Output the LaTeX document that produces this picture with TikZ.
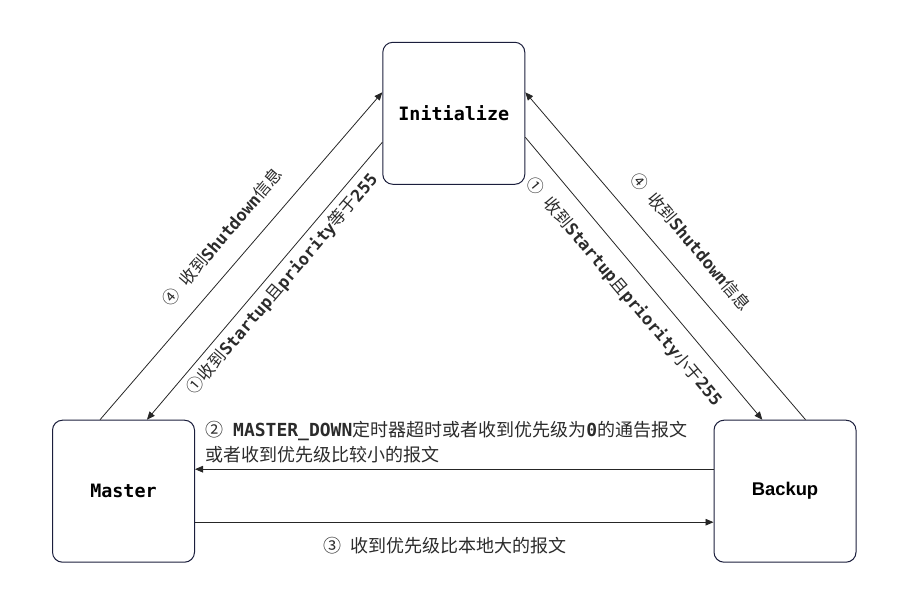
\documentclass[tikz,border=0pt]{standalone}
\usepackage{fontspec}
\setmainfont{Noto Sans CJK SC}
\setmonofont{DejaVu Sans Mono}
\newfontfamily\latinsans{Liberation Sans}
\usetikzlibrary{arrows.meta}

\definecolor{boxline}{HTML}{1B1E3C}
\definecolor{edgeline}{HTML}{262626}
\definecolor{msgtext}{HTML}{2B2B2B}

\newcommand\kw[1]{\texttt{\bfseries #1}}
\newcommand\gap{\hspace{0.55em}}

\begin{document}
\begin{tikzpicture}[x=0.75pt,y=-0.75pt,
	state/.style={draw=boxline,line width=0.75pt,rounded corners=7.5pt,minimum width=106.5pt,minimum height=106.5pt,inner sep=0pt,font=\fontsize{13.8}{16}\selectfont},
	msg/.style={text=msgtext,inner sep=0pt,font=\fontsize{12.6}{15}\selectfont},
	trans/.style={draw=edgeline,line width=0.6pt,-{Triangle[length=6pt,width=5pt]}}]
	\useasboundingbox (0,0) rectangle (899,616);

	\node [state] at (453.8,113.3) (init) {\kw{Initialize}};
	\node [state] at (123.5,491.2) (master) {\kw{Master}};
	\node [state] at (785,491.2) (backup) {\latinsans\bfseries Backup};

	\draw [trans] ([xshift=-17.6pt]master.north) to ([yshift=15.75pt]init.west);
	\draw [trans] ([yshift=-21.75pt]init.west) to ([xshift=17.6pt]master.north);

	\draw [trans] ([yshift=-18pt]init.east) to ([xshift=-17pt]backup.north);
	\draw [trans] ([xshift=15.4pt]backup.north) to ([yshift=15.75pt]init.east);

	\draw [trans] ([yshift=16.5pt]backup.west) to ([yshift=16.5pt]master.east);
	\draw [trans] ([yshift=-23.25pt]master.east) to ([yshift=-23.25pt]backup.west);

	\node [msg,rotate=49.5] at (222,237) (shut left) {④\gap 收到\kw{Shutdown}信息};
	\node [msg,rotate=49.5] at (282.5,284) (start left) {①收到\kw{Startup}且\kw{priority}等于\kw{255}};
	\node [msg,rotate=-49.8] at (624,292) (start right) {①\gap 收到\kw{Startup}且\kw{priority}小于\kw{255}};
	\node [msg,rotate=-49.8] at (691,241.5) (shut right) {④\gap 收到\kw{Shutdown}信息};

	\node [msg,anchor=north west,align=left,font=\fontsize{13.5}{18.75}\selectfont] at (205,421) (down) {②\gap \kw{MASTER\_DOWN}定时器超时或者收到优先级为\kw{0}的通告报文\\或者收到优先级比较小的报文};
	\node [msg,font=\fontsize{13.5}{16}\selectfont] at (445,546) (higher) {③\gap 收到优先级比本地大的报文};

\end{tikzpicture}
\end{document}
